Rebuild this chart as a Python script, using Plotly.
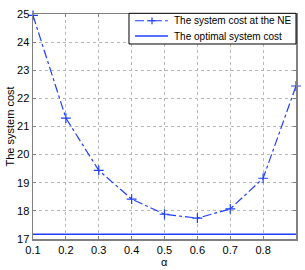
import plotly.graph_objects as go

alpha = [0.1, 0.2, 0.3, 0.4, 0.5, 0.6, 0.7, 0.8, 0.9]
ne_cost = [24.95, 21.3, 19.44, 18.42, 17.88, 17.74, 18.07, 19.16, 22.44]
opt_cost = [17.17] * len(alpha)
x_ticks = [0.1, 0.2, 0.3, 0.4, 0.5, 0.6, 0.7, 0.8]
y_ticks = [17, 18, 19, 20, 21, 22, 23, 24, 25]
legend_names = ["The system cost at the NE", "The optimal system cost"]
x_title = "α"
y_title = "The system cost"

BLUE = "#1f3fff"

fig = go.Figure()
fig.add_trace(go.Scatter(
    x=alpha, y=ne_cost, mode="lines+markers",
    name=legend_names[0], cliponaxis=False,
    line=dict(color=BLUE, width=1.2, dash="dashdot"),
    marker=dict(symbol="cross-thin", size=7, line=dict(color=BLUE, width=1.2)),
))
fig.add_trace(go.Scatter(
    x=alpha, y=opt_cost, mode="lines",
    name=legend_names[1],
    line=dict(color=BLUE, width=1.5),
))

axis_common = dict(
    showline=True, mirror="ticks", linecolor="#808080", linewidth=1.5,
    ticks="inside", ticklen=3, tickcolor="#808080",
    showgrid=True, gridcolor="#b8b8b8", griddash="dot", gridwidth=1,
    zeroline=False, tickfont=dict(size=11, color="black"), automargin=False,
)
fig.update_xaxes(range=[0.1, 0.9], tickvals=x_ticks, ticktext=[str(t) for t in x_ticks],
                 **axis_common)
fig.update_yaxes(range=[17, 25], tickvals=y_ticks, **axis_common)

# Manual legend (MATLAB-style compact box)
shapes = [
    dict(type="rect", xref="paper", yref="paper", x0=0.365, x1=1.0, y0=0.8667, y1=1.003,
         line=dict(color="black", width=1), fillcolor="white", layer="above"),
    dict(type="line", xref="paper", yref="paper", x0=0.388, x1=0.513, y0=0.970, y1=0.970,
         line=dict(color=BLUE, width=1.2, dash="dashdot"), layer="above"),
    dict(type="line", xref="paper", yref="paper", x0=0.4395, x1=0.4655, y0=0.970, y1=0.970,
         line=dict(color=BLUE, width=1.2), layer="above"),
    dict(type="line", xref="paper", yref="paper", x0=0.4525, x1=0.4525, y0=0.955, y1=0.985,
         line=dict(color=BLUE, width=1.2), layer="above"),
    dict(type="line", xref="paper", yref="paper", x0=0.388, x1=0.513, y0=0.902, y1=0.902,
         line=dict(color=BLUE, width=1.5), layer="above"),
]
annotations = [
    dict(xref="paper", yref="paper", x=0.5285, y=0.970, xanchor="left", yanchor="middle",
         text=legend_names[0], showarrow=False, font=dict(size=10, color="black")),
    dict(xref="paper", yref="paper", x=0.5285, y=0.902, xanchor="left", yanchor="middle",
         text=legend_names[1], showarrow=False, font=dict(size=10, color="black")),
    dict(xref="paper", yref="paper", x=-0.0875, y=0.5, xanchor="center", yanchor="middle",
         text=y_title, textangle=-90, showarrow=False, font=dict(size=11, color="black")),
    dict(xref="paper", yref="paper", x=0.5, y=-0.102, xanchor="center", yanchor="middle",
         text=x_title, showarrow=False, font=dict(size=11, color="black")),
]

fig.update_layout(
    width=305, height=270,
    margin=dict(l=33, r=9, t=14, b=31),
    paper_bgcolor="white", plot_bgcolor="white",
    font=dict(family="Liberation Sans, Arial, sans-serif", size=11, color="black"),
    showlegend=False, hovermode=False,
    shapes=shapes, annotations=annotations,
)

fig.write_html("out.html", config={"displayModeBar": False, "staticPlot": True},
               post_script="document.body.style.margin='0';document.body.style.padding='0';")
